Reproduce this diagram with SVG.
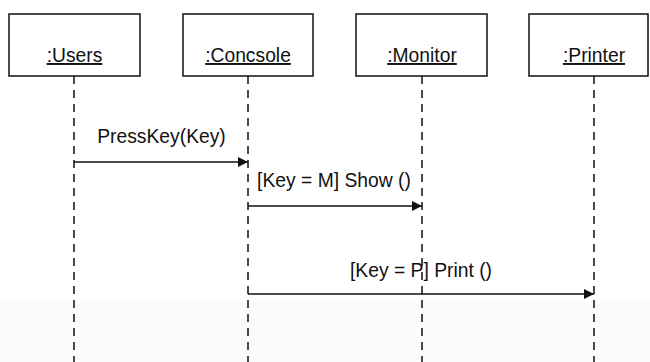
<svg xmlns="http://www.w3.org/2000/svg" width="650" height="362" viewBox="0 0 650 362">
<style>
.box{fill:#fff;stroke:#111;stroke-width:1.5}
.life{stroke:#111;stroke-width:1.5;stroke-dasharray:8 6;fill:none}
.msg{stroke:#111;stroke-width:1.5;fill:none}
text{font-family:"Liberation Sans",Arial,sans-serif;font-size:19.3px;fill:#111}
.lbl{text-anchor:middle;text-decoration:underline}
</style>
<defs>
<marker id="arr" viewBox="0 0 10 10" refX="10" refY="5" markerWidth="10" markerHeight="10" markerUnits="userSpaceOnUse" orient="auto">
<path d="M0,0 L10,5 L0,10 Z" fill="#111"/>
</marker>
</defs>
<rect x="0" y="0" width="650" height="362" fill="#fff"/>
<rect x="0" y="302" width="650" height="60" fill="#fbfbfb"/>
<g id="lifelines">
<line class="life" x1="74" y1="76" x2="74" y2="362"/>
<line class="life" x1="248" y1="76" x2="248" y2="362"/>
<line class="life" x1="422" y1="76" x2="422" y2="362"/>
<line class="life" x1="594" y1="76" x2="594" y2="362"/>
</g>
<g id="users">
<rect class="box" x="9" y="14" width="131" height="62"/>
<text class="lbl" x="74.5" y="62">:Users</text>
</g>
<g id="console">
<rect class="box" x="183" y="14" width="130" height="62"/>
<text class="lbl" x="248" y="62">:Concsole</text>
</g>
<g id="monitor">
<rect class="box" x="356" y="14" width="131" height="62"/>
<text class="lbl" x="422" y="62">:Monitor</text>
</g>
<g id="printer">
<rect class="box" x="529" y="14" width="119" height="62"/>
<text class="lbl" x="594" y="62">:Printer</text>
</g>
<g id="connectors">
<line class="msg" x1="74" y1="162" x2="248" y2="162" marker-end="url(#arr)"/>
<text x="161.5" y="143" text-anchor="middle">PressKey(Key)</text>
<line class="msg" x1="248" y1="206" x2="422" y2="206" marker-end="url(#arr)"/>
<text x="334" y="187" text-anchor="middle">[Key = M] Show ()</text>
<line class="msg" x1="248" y1="294" x2="594" y2="294" marker-end="url(#arr)"/>
<text x="421" y="277" text-anchor="middle">[Key = P] Print ()</text>
</g>
</svg>
